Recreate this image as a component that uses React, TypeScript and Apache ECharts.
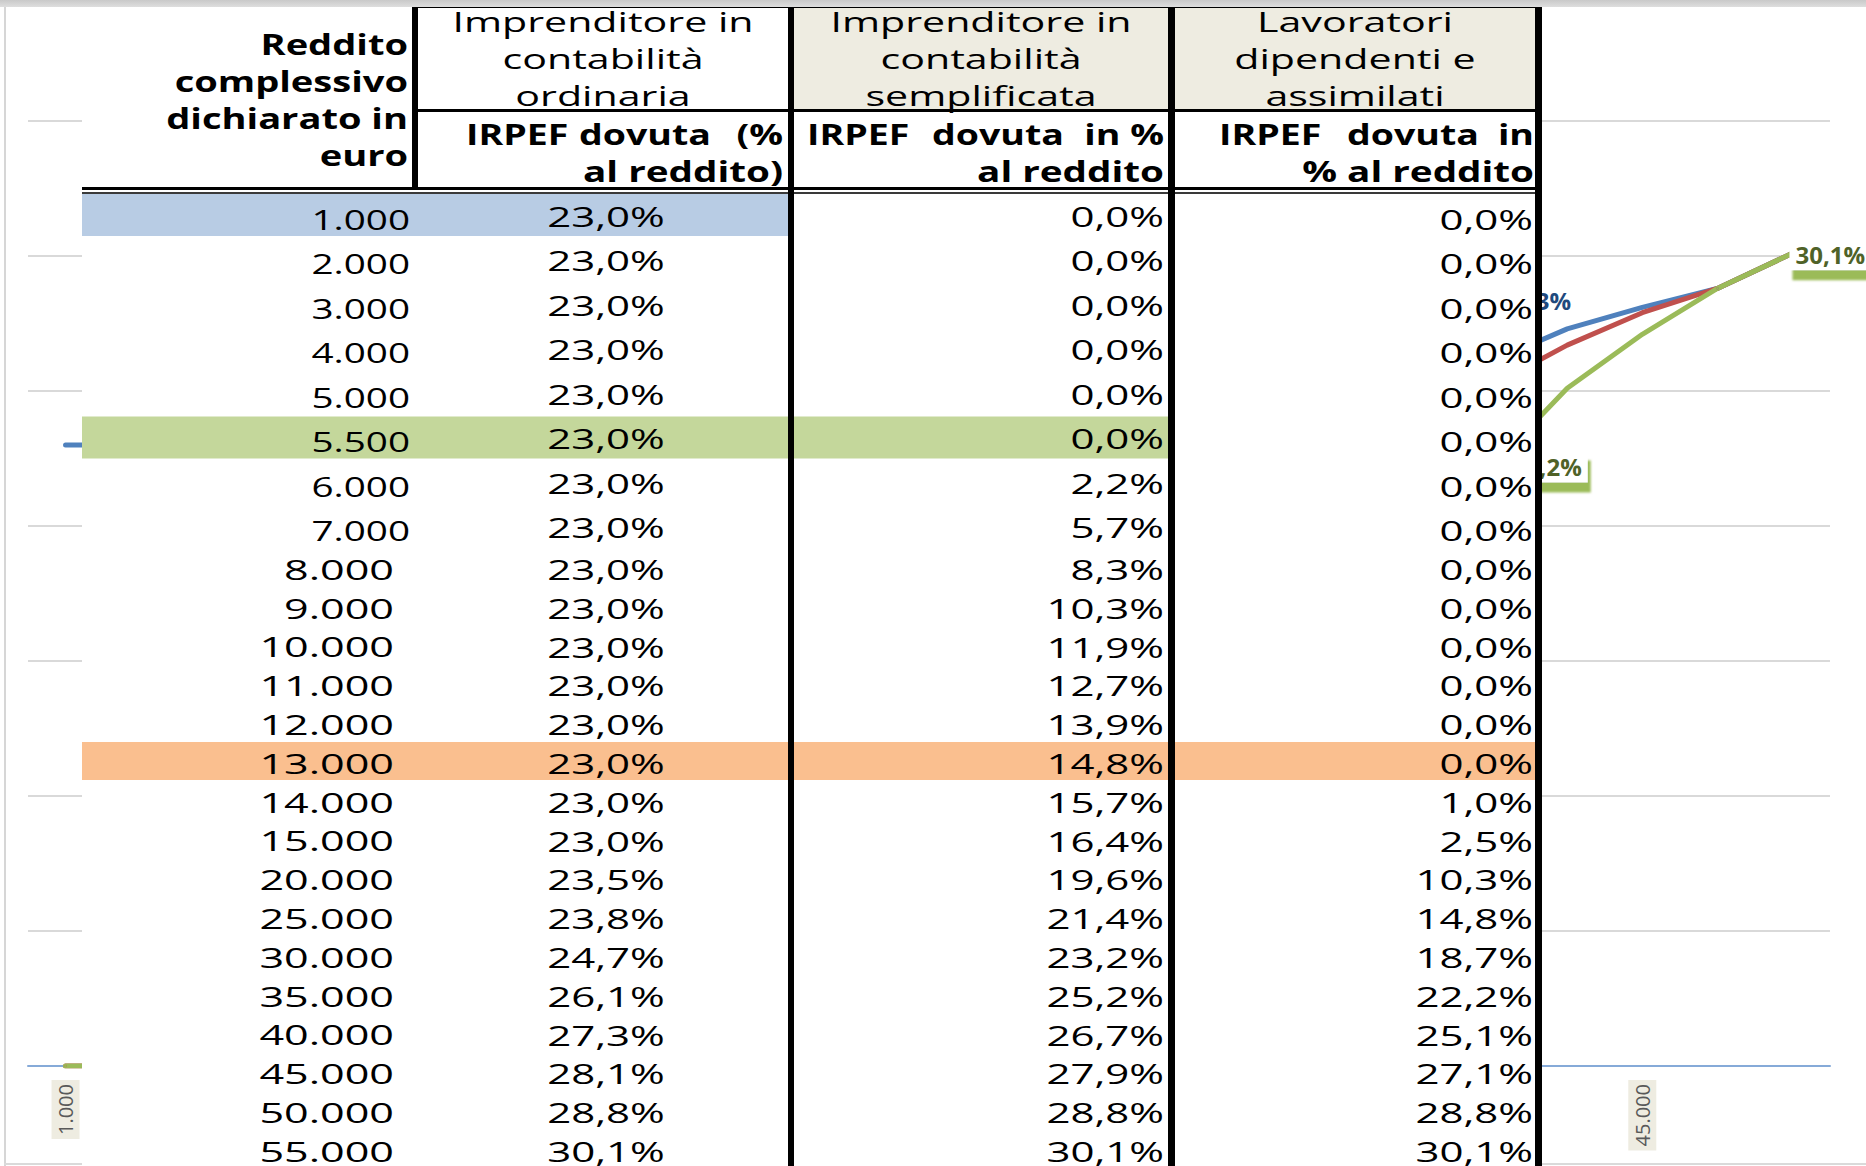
import React, { useEffect, useRef } from 'react';
import * as echarts from 'echarts';

// ---------- DATA ----------
const categories = ['1.000', '2.000', '3.000', '4.000', '5.000', '5.500', '6.000', '7.000', '8.000', '9.000', '10.000', '11.000', '12.000', '13.000', '14.000', '15.000', '20.000', '25.000', '30.000', '35.000', '40.000', '45.000', '50.000', '55.000'];
const ordinaria = [23.0, 23.0, 23.0, 23.0, 23.0, 23.0, 23.0, 23.0, 23.0, 23.0, 23.0, 23.0, 23.0, 23.0, 23.0, 23.0, 23.5, 23.8, 24.7, 26.1, 27.3, 28.1, 28.8, 30.1];
const semplificata = [0.0, 0.0, 0.0, 0.0, 0.0, 0.0, 2.2, 5.7, 8.3, 10.3, 11.9, 12.7, 13.9, 14.8, 15.7, 16.4, 19.6, 21.4, 23.2, 25.2, 26.7, 27.9, 28.8, 30.1];
const lavoratori = [0.0, 0.0, 0.0, 0.0, 0.0, 0.0, 0.0, 0.0, 0.0, 0.0, 0.0, 0.0, 0.0, 0.0, 1.0, 2.5, 10.3, 14.8, 18.7, 22.2, 25.1, 27.1, 28.8, 30.1];

const headerReddito = ['Reddito', 'complessivo', 'dichiarato in', 'euro'];
const headerOrdinaria = ['Imprenditore in', 'contabilità', 'ordinaria'];
const headerSemplificata = ['Imprenditore in', 'contabilità', 'semplificata'];
const headerLavoratori = ['Lavoratori', 'dipendenti e', 'assimilati'];
const subOrdinaria = [['IRPEF', 'dovuta', '(%'], 'al reddito)'];
const subSemplificata = [['IRPEF', 'dovuta', 'in %'], 'al reddito'];
const subLavoratori = [['IRPEF', 'dovuta', 'in'], '% al reddito'];

// rows highlighted in the table, and how many columns the band covers
const highlightRows = [0, 5, 13];
const highlightCols = [2, 3, 4];
// data labels shown on the chart
const greenLabelIdx = [19, 23];
const blueLabelIdx = [20];

// ---------- STYLE / LAYOUT ----------
const FONT = '"Open Sans", sans-serif';
const highlightColors = ['#B8CCE4', '#C4D79B', '#FABF8F'];
const Z = 100;

const fmt = (v: number) => v.toFixed(1).replace('.', ',') + '%';

function rowCenter(i: number) {
  return i < 8 ? 219 + i * 44.5 : 569 + (i - 8) * 38.8;
}

function buildTable() {
  const els: any[] = [];
  const rect = (x: number, y: number, w: number, h: number, fill: any, z = Z) => ({
    type: 'rect', z, silent: true, shape: { x, y, width: w, height: h }, style: { fill },
  });
  const txt = (text: string, x: number, y: number, align: string, size: number, weight: string, sx: number, color = '#000') => ({
    type: 'text', z: Z + 3, silent: true, x, y, scaleX: sx,
    style: {
      text, fill: color, font: `${weight} ${size}px ${FONT}`,
      textAlign: align, textVerticalAlign: 'middle', align, verticalAlign: 'middle',
    },
  });

  // chart area borders
  els.push(rect(4, 7, 2, 1159, '#D6D6D6', 1));
  els.push(rect(4, 1163, 1862, 2, '#DADADA', 1));

  // table background
  els.push(rect(82, 6, 1460, 1160, '#FFFFFF'));
  // beige header cells
  els.push(rect(794, 8, 374, 101, '#EEECE1', Z + 1));
  els.push(rect(1175, 8, 360, 101, '#EEECE1', Z + 1));

  // highlight bands
  const colRight = [412, 788, 1168, 1535];
  highlightRows.forEach((r, k) => {
    const cy = rowCenter(r) - (r < 8 ? 4 : 2);
    const h = r < 8 ? 42 : 38;
    els.push(rect(82, cy - h / 2, colRight[highlightCols[k] - 1] - 82, h, highlightColors[k], Z + 1));
  });

  // lines
  const L = Z + 2;
  els.push(rect(412, 5, 1130, 3, '#000', L));
  els.push(rect(412, 109, 1130, 3, '#000', L));
  els.push(rect(82, 187, 1460, 3, '#000', L));
  els.push(rect(82, 192, 1460, 2, '#3A3A3A', L));
  els.push(rect(412, 5, 6, 183, '#000', L));
  els.push(rect(788, 5, 6, 1161, '#000', L));
  els.push(rect(1168, 5, 7, 1161, '#000', L));
  els.push(rect(1535, 5, 7, 1161, '#000', L));

  // header texts
  const REG = 1.47, BLD = 1.36;
  [44, 81, 118, 155].forEach((y, k) => els.push(txt(headerReddito[k], 408, y, 'right', 28, 'bold', BLD)));
  const groupY = [21, 58, 95];
  headerOrdinaria.forEach((t, k) => els.push(txt(t, 603, groupY[k], 'center', 28, 'normal', REG)));
  headerSemplificata.forEach((t, k) => els.push(txt(t, 981, groupY[k], 'center', 28, 'normal', REG)));
  headerLavoratori.forEach((t, k) => els.push(txt(t, 1355, groupY[k], 'center', 28, 'normal', REG)));

  const subs: [any[], number, number, number][] = [
    [subOrdinaria, 466, 645, 783],
    [subSemplificata, 807, 998, 1164],
    [subLavoratori, 1219, 1413, 1534],
  ];
  subs.forEach(([s, l, c, r]) => {
    const words = s[0] as string[];
    els.push(txt(words[0], l, 134, 'left', 28, 'bold', 1.34));
    els.push(txt(words[1], c, 134, 'center', 28, 'bold', 1.34));
    els.push(txt(words[2], r, 134, 'right', 28, 'bold', 1.34));
    els.push(txt(s[1] as string, r, 171, 'right', 28, 'bold', 1.38));
  });

  // body texts
  categories.forEach((cat, i) => {
    const cy = rowCenter(i);
    const up = i < 8 ? 3 : 0;
    els.push(txt(cat, i < 8 ? 410 : 394, cy, 'right', 28, 'normal', i < 8 ? 1.38 : 1.54));
    els.push(txt(fmt(ordinaria[i]), 606, cy - up, 'center', 28, 'normal', 1.5));
    els.push(txt(fmt(semplificata[i]), 1164, cy - up, 'right', 28, 'normal', 1.5));
    els.push(txt(fmt(lavoratori[i]), 1533, cy, 'right', 28, 'normal', 1.5));
  });

  // top gray band
  els.push({
    type: 'rect', z: Z + 10, silent: true, shape: { x: 0, y: 0, width: 1866, height: 7 },
    style: {
      fill: new echarts.graphic.LinearGradient(0, 0, 0, 1, [
        { offset: 0, color: '#C9C9C9' }, { offset: 1, color: '#DEDEDE' },
      ]),
    },
  });
  return els;
}

export default function App() {
  const ref = useRef<HTMLDivElement>(null);
  useEffect(() => {
    if (!ref.current) return;
    const chart = echarts.init(ref.current, undefined, { renderer: 'svg' });

    const baseLabel = {
      show: false,
      fontFamily: FONT,
      fontWeight: 'bold',
      fontSize: 24,
      formatter: (p: any) => fmt(p.value),
    };
    const greenData = lavoratori.map((v, i) => {
      if (!greenLabelIdx.includes(i)) return v;
      const last = i === lavoratori.length - 1;
      return {
        value: v,
        label: {
          show: true,
          position: 'right',
          distance: last ? -4 : 13,
          offset: [0, last ? 1 : 0],
          color: '#4F6228',
          backgroundColor: '#FFFFFF',
          padding: [4, 6, 4, 6],
          shadowColor: '#9BBB59',
          shadowOffsetX: 3,
          shadowOffsetY: 10,
          shadowBlur: 2,
        },
      };
    });
    const blueData = ordinaria.map((v, i) => {
      if (!blueLabelIdx.includes(i)) return v;
      return {
        value: v,
        label: {
          show: true,
          position: 'top',
          distance: 5,
          offset: [-31, -7],
          color: '#1F497D',
          padding: [3, 4, 3, 4],
        },
      };
    });

    const mkSeries = (name: string, data: any[], color: string) => ({
      name,
      type: 'line',
      data,
      symbol: 'circle',
      symbolSize: 2,
      showSymbol: true,
      itemStyle: { color },
      lineStyle: { color, width: 5, cap: 'round', join: 'round' },
      label: baseLabel,
      emphasis: { disabled: true },
    });

    chart.setOption({
      animation: false,
      backgroundColor: '#FFFFFF',
      grid: { left: 28, right: 36, top: 121, bottom: 100, containLabel: false },
      xAxis: {
        type: 'category',
        data: categories,
        boundaryGap: true,
        axisLine: { show: true, lineStyle: { color: '#86AAD8', width: 2 } },
        axisTick: { show: false },
        axisLabel: {
          interval: 20,
          rotate: 90,
          margin: 14,
          color: '#595959',
          fontSize: 20,
          fontFamily: FONT,
          backgroundColor: '#EEECE1',
          padding: [4, 4, 4, 4],
        },
        splitLine: { show: false },
      },
      yAxis: {
        type: 'value',
        min: 0,
        max: 35,
        interval: 5,
        axisLabel: { show: false },
        axisLine: { show: false },
        axisTick: { show: false },
        splitLine: { lineStyle: { color: '#D9D9D9', width: 2 } },
      },
      series: [
        mkSeries('Imprenditore in contabilità ordinaria', blueData, '#4F81BD'),
        mkSeries('Imprenditore in contabilità semplificata', semplificata, '#C0504D'),
        mkSeries('Lavoratori dipendenti e assimilati', greenData, '#9BBB59'),
      ],
      graphic: { elements: buildTable() },
    });
    return () => chart.dispose();
  }, []);
  return <div ref={ref} style={{ position: 'absolute', left: 0, top: 0, width: 1866, height: 1166 }} />;
}
